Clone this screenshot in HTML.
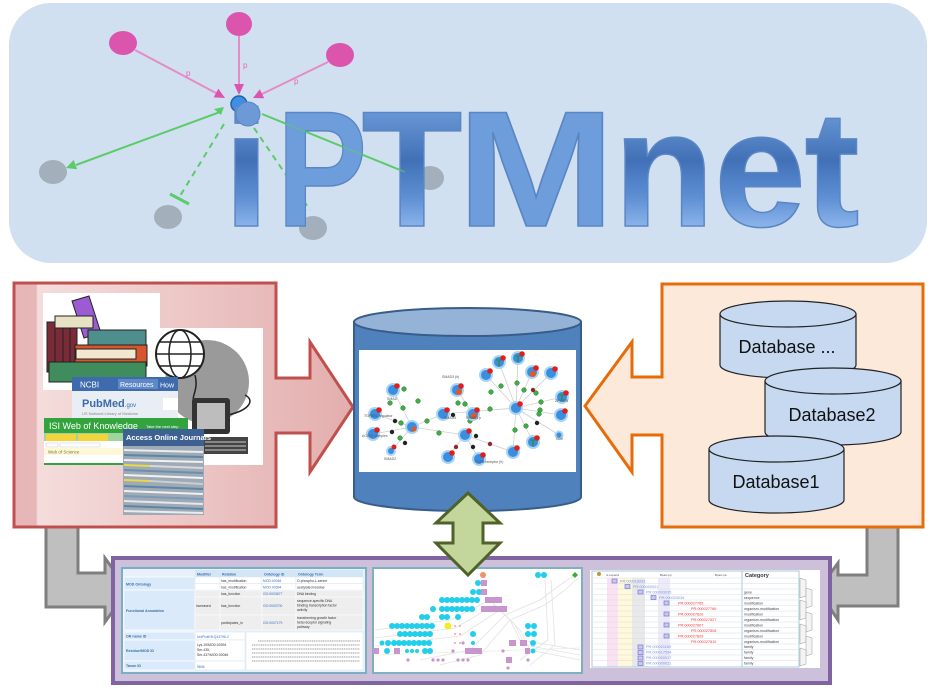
<!DOCTYPE html>
<html><head><meta charset="utf-8"><style>html,body{margin:0;padding:0;background:#fff;}svg{display:block}</style></head>
<body>
<svg width="939" height="689" viewBox="0 0 939 689" xmlns="http://www.w3.org/2000/svg" font-family="'Liberation Sans', sans-serif">
<defs>
<linearGradient id="tg" x1="0" y1="105" x2="0" y2="228" gradientUnits="userSpaceOnUse">
<stop offset="0" stop-color="#6E9DDB"/><stop offset="0.45" stop-color="#4170B6"/><stop offset="0.75" stop-color="#5E8FD3"/><stop offset="1" stop-color="#8DB5EC"/></linearGradient>
<linearGradient id="rg" x1="14" y1="0" x2="353" y2="0" gradientUnits="userSpaceOnUse">
<stop offset="0" stop-color="#E6B7B6"/><stop offset="0.065" stop-color="#E6B7B6"/><stop offset="0.07" stop-color="#F4DDDC"/><stop offset="1" stop-color="#E3AEAD"/></linearGradient>
</defs>
<rect width="939" height="689" fill="#fff"/>

<!-- Banner -->
<rect x="9" y="3" width="918" height="260" rx="42" fill="#D0E0F1"/>
<!-- network in banner -->
<g stroke="#E58BC6" stroke-width="2">
<line x1="135" y1="50" x2="216" y2="93"/>
<line x1="239" y1="36" x2="239" y2="85"/>
<line x1="328" y1="62" x2="262" y2="94"/>
</g>
<g fill="#DC55AC">
<polygon points="225,98 213.7,97.4 218.3,88.6"/>
<polygon points="239,95 234,84 244,84"/>
<polygon points="253,98 264.2,98.2 259.8,89.2"/>
<ellipse cx="123" cy="43" rx="14" ry="12"/>
<ellipse cx="239" cy="24" rx="13" ry="12"/>
<ellipse cx="340" cy="55" rx="14" ry="12"/>
</g>
<g fill="#E06AB6" font-size="8"><text x="186" y="76">p</text><text x="243" y="68">p</text><text x="294" y="84">p</text></g>
<g fill="#A3AFBA">
<ellipse cx="53" cy="172" rx="14" ry="12"/>
<ellipse cx="168" cy="217" rx="14" ry="12"/>
<ellipse cx="313" cy="228" rx="14" ry="12"/>
<ellipse cx="430" cy="178" rx="14" ry="12"/>
</g>
<g stroke="#5CCB6A" stroke-width="2" fill="none">
<line x1="220" y1="112" x2="76" y2="165"/>
<line x1="224" y1="124" x2="180" y2="196" stroke-dasharray="6,5"/>
<line x1="254" y1="128" x2="310" y2="210" stroke-dasharray="6,5"/>
<line x1="262" y1="114" x2="405" y2="172"/>
<line x1="170" y1="194" x2="189" y2="204" stroke-width="3"/>
</g>
<polygon points="66,168 77.1,169.3 73.7,159.9" fill="#5CCB6A"/>
<polygon points="214,109 224,107 221,115" fill="#5CCB6A"/>
<circle cx="239" cy="104" r="8" fill="#3A8FE6" stroke="#2A5FA0" stroke-width="1.5"/>

<!-- iPTMnet text -->
<g fill="url(#tg)" stroke="#5A86C4" stroke-width="1.5" font-weight="bold" font-size="165" text-anchor="middle">
<text x="246.5" y="226">i</text>
<text transform="translate(322,226) scale(0.82,1)" x="0" y="0">P</text>
<text x="412" y="226">T</text>
<text transform="translate(536,226) scale(1.15,1)" x="0" y="0">M</text>
<text x="664" y="226">n</text>
<text x="760" y="226">e</text>
<text x="832" y="226">t</text>
</g>
<circle cx="248" cy="114" r="12" fill="#6D9AD6" stroke="#5A86C4" stroke-width="1"/>
<g stroke="#5CCB6A" stroke-width="1.5" opacity="0.6">
<line x1="262" y1="114" x2="405" y2="172"/>
</g>

<!-- Gray elbow arrows -->
<path d="M46,527 L78,527 L78,573 L105,573 L105,558 L128,590 L105,622 L105,607 L46,607 Z" fill="#BFBFBF" stroke="#7F7F7F" stroke-width="3" stroke-linejoin="miter"/>
<path d="M867,527 L898,527 L898,606 L838,606 L838,620 L818,590 L838,563 L838,575 L867,575 Z" fill="#BFBFBF" stroke="#7F7F7F" stroke-width="3"/>

<!-- Left box -->
<path d="M14,283 L276,283 L276,378 L310,378 L310,342 L353,407 L310,472 L310,433 L276,433 L276,527 L14,527 Z" fill="url(#rg)" stroke="#C0504D" stroke-width="3"/>
<!-- books image -->
<rect x="43" y="293" width="117" height="97" fill="#fff"/>
<rect x="160" y="328" width="103" height="137" fill="#fff"/>
<g stroke="#222" stroke-width="1">
<polygon points="72,301 89,296 101,333 84,338" fill="#9A5BD3"/>
<rect x="47" y="322" width="30" height="50" fill="#7B2B38"/>
<line x1="55" y1="322" x2="55" y2="372"/><line x1="63" y1="322" x2="63" y2="372"/><line x1="70" y1="322" x2="70" y2="372"/>
<rect x="55" y="316" width="38" height="12" fill="#E8E2C4"/>
<rect x="88" y="330" width="58" height="20" fill="#4E8E8C"/>
<rect x="75" y="345" width="72" height="21" fill="#D4572F"/>
<rect x="76" y="349" width="60" height="10" fill="#F2E8D0"/>
<rect x="49" y="362" width="97" height="20" fill="#3F8D5C"/>
</g>
<!-- globe/computer -->
<circle cx="207" cy="382" r="42" fill="#9A9A9A"/>
<circle cx="180" cy="354" r="24" fill="#fff" stroke="#222" stroke-width="2"/>
<g stroke="#222" stroke-width="1.5" fill="none">
<ellipse cx="180" cy="354" rx="11" ry="24"/><line x1="156" y1="354" x2="204" y2="354"/>
<line x1="159" y1="342" x2="201" y2="342"/><line x1="159" y1="366" x2="201" y2="366"/>
<path d="M195,375 C200,395 185,400 200,405"/>
<path d="M228,415 C250,410 255,400 245,395"/>
</g>
<rect x="192" y="398" width="38" height="36" rx="3" fill="#333"/>
<rect x="197" y="403" width="28" height="26" fill="#BDBDBD"/>
<rect x="203" y="437" width="45" height="17" fill="#444"/>
<g stroke="#ccc" stroke-width="1"><line x1="205" y1="442" x2="246" y2="442"/><line x1="205" y1="446" x2="246" y2="446"/><line x1="205" y1="450" x2="246" y2="450"/></g>
<!-- NCBI -->
<rect x="72" y="377" width="106" height="41" fill="#E9EEF4"/>
<rect x="72" y="377" width="106" height="14" fill="#3E6AAE"/>
<text x="80" y="387.5" font-size="8" fill="#fff">NCBI</text>
<rect x="118" y="379" width="40" height="10" fill="#5F88C4"/>
<text x="120" y="387" font-size="7" fill="#fff">Resources</text>
<text x="160" y="387.5" font-size="7" fill="#fff">How</text>
<text x="82" y="407" font-size="11" font-weight="bold" fill="#3A6AB0">PubMed<tspan font-size="6" font-weight="normal">.gov</tspan></text>
<text x="82" y="415" font-size="4" fill="#888">US National Library of Medicine</text>
<rect x="163" y="398" width="15" height="12" fill="#fff"/>
<!-- ISI -->
<rect x="44" y="418" width="144" height="47" fill="#fff"/>
<rect x="44" y="418" width="144" height="15" fill="#33A43D"/>
<text x="49" y="429" font-size="9" fill="#fff">ISI Web of Knowledge</text>
<text x="146" y="428" font-size="4" fill="#fff">Take the next step</text>
<rect x="44" y="433" width="144" height="8" fill="#9FD49F"/>
<rect x="46" y="434" width="30" height="7" fill="#F3D43F"/><rect x="78" y="434" width="30" height="7" fill="#F3D43F"/>
<rect x="46" y="443" width="12" height="4" fill="#fff" stroke="#ccc" stroke-width="0.5"/><rect x="60" y="443" width="40" height="4" fill="#fff" stroke="#ccc" stroke-width="0.5"/>
<rect x="44" y="448" width="144" height="7" fill="#FFF8D8"/>
<text x="48" y="453.5" font-size="4.5" fill="#6B7F2A">Web of Science</text>
<rect x="44" y="463" width="144" height="2" fill="#33A43D"/>
<!-- Journals -->
<rect x="123" y="429" width="81" height="86" fill="#9FAAB5"/>
<rect x="123" y="429" width="81" height="17" fill="#3D6190"/>
<text x="126" y="440" font-size="7.5" font-weight="bold" fill="#fff">Access Online Journals</text>
<g stroke-width="2">
<line x1="124" y1="450" x2="203" y2="452" stroke="#E8ECEF"/>
<line x1="124" y1="455" x2="203" y2="457" stroke="#5B86A8"/>
<line x1="124" y1="460" x2="203" y2="462" stroke="#EEF0F2"/>
<line x1="124" y1="465" x2="150" y2="466" stroke="#E8D84A"/>
<line x1="150" y1="466" x2="203" y2="468" stroke="#D5DADF"/>
<line x1="124" y1="470" x2="203" y2="473" stroke="#6A8FB0"/>
<line x1="124" y1="475" x2="203" y2="478" stroke="#F0F2F4"/>
<line x1="124" y1="480" x2="150" y2="481" stroke="#E8D84A"/>
<line x1="150" y1="481" x2="203" y2="484" stroke="#C8CED4"/>
<line x1="124" y1="486" x2="203" y2="489" stroke="#5B86A8"/>
<line x1="124" y1="491" x2="203" y2="494" stroke="#EEF0F2"/>
<line x1="124" y1="496" x2="203" y2="499" stroke="#7A9AB8"/>
<line x1="124" y1="501" x2="203" y2="504" stroke="#E4E8EC"/>
<line x1="124" y1="506" x2="203" y2="509" stroke="#5B86A8"/>
<line x1="124" y1="511" x2="203" y2="513" stroke="#E8ECEF"/>
</g>

<!-- Right box -->
<path d="M662,284 L923,284 L923,527 L662,527 L662,435 L632,435 L632,472 L585,406 L632,342 L632,377 L662,377 Z" fill="#FDE9D9" stroke="#E46C0A" stroke-width="3"/>
<g stroke="#222" stroke-width="1.2" fill="#C6D9F1">
<path d="M720,314 L720,365 A68,13 0 0 0 856,365 L856,314 Z"/>
<ellipse cx="788" cy="314" rx="68" ry="13"/>
</g>
<text x="787" y="353" font-size="18" text-anchor="middle" fill="#111">Database ...</text>
<g stroke="#222" stroke-width="1.2" fill="#C6D9F1">
<path d="M765,381 L765,432 A68,13 0 0 0 901,432 L901,381 Z"/>
<ellipse cx="833" cy="381" rx="68" ry="13"/>
</g>
<text x="832" y="421" font-size="18" text-anchor="middle" fill="#111">Database2</text>
<g stroke="#222" stroke-width="1.2" fill="#C6D9F1">
<path d="M709,449 L709,500 A67.5,13 0 0 0 844,500 L844,449 Z"/>
<ellipse cx="776.5" cy="449" rx="67.5" ry="13"/>
</g>
<text x="776" y="488" font-size="18" text-anchor="middle" fill="#111">Database1</text>

<!-- Center cylinder -->
<path d="M354,322 L354,497 A113.5,14 0 0 0 581,497 L581,322 Z" fill="#4F81BD" stroke="#385D8A" stroke-width="2"/>
<ellipse cx="467.5" cy="322" rx="113.5" ry="14" fill="#95B3D7" stroke="#385D8A" stroke-width="2"/>
<rect x="359" y="350" width="217" height="122" fill="#fff"/>
<g stroke="#CFCFCF" stroke-width="0.8">
<line x1="393" y1="390" x2="412" y2="427"/><line x1="375" y1="414" x2="412" y2="427"/><line x1="373" y1="434" x2="412" y2="427"/>
<line x1="391" y1="451" x2="412" y2="427"/><line x1="412" y1="427" x2="443" y2="414"/><line x1="412" y1="427" x2="465" y2="435"/>
<line x1="443" y1="414" x2="516" y2="408"/><line x1="457" y1="390" x2="473" y2="414"/>
<line x1="465" y1="435" x2="448" y2="457"/><line x1="465" y1="435" x2="479" y2="459"/><line x1="465" y1="435" x2="513" y2="452"/>
<line x1="516" y1="408" x2="486" y2="375"/><line x1="516" y1="408" x2="499" y2="362"/><line x1="516" y1="408" x2="518" y2="358"/>
<line x1="516" y1="408" x2="532" y2="372"/><line x1="516" y1="408" x2="551" y2="373"/><line x1="516" y1="408" x2="562" y2="397"/>
<line x1="516" y1="408" x2="561" y2="415"/><line x1="516" y1="408" x2="533" y2="442"/><line x1="516" y1="408" x2="513" y2="452"/>
<line x1="516" y1="408" x2="559" y2="435"/>
</g>
<g fill="#3CB043" stroke="#1E6A22" stroke-width="0.5">
<circle cx="404" cy="389" r="2.3"/><circle cx="418" cy="401" r="2.3"/><circle cx="403" cy="408" r="2.3"/><circle cx="401" cy="423" r="2.3"/>
<circle cx="427" cy="421" r="2.3"/><circle cx="439" cy="433" r="2.3"/><circle cx="400" cy="438" r="2.3"/><circle cx="458" cy="403" r="2.3"/>
<circle cx="490" cy="409" r="2.3"/><circle cx="491" cy="392" r="2.3"/><circle cx="501" cy="386" r="2.3"/><circle cx="517" cy="383" r="2.3"/>
<circle cx="524" cy="390" r="2.3"/><circle cx="536" cy="393" r="2.3"/><circle cx="541" cy="402" r="2.3"/><circle cx="540" cy="410" r="2.3"/>
<circle cx="539" cy="414" r="2.3"/><circle cx="526" cy="426" r="2.3"/><circle cx="515" cy="430" r="2.3"/><circle cx="470" cy="421" r="2.3"/>
<circle cx="465" cy="404" r="2.3"/><circle cx="390" cy="403" r="2.3"/>
</g>
<g fill="#222"><circle cx="395" cy="421" r="2.2"/><circle cx="392" cy="432" r="2.2"/><circle cx="405" cy="443" r="2.2"/><circle cx="453" cy="415" r="2.2"/>
<circle cx="476" cy="436" r="2.2"/><circle cx="473" cy="447" r="2.2"/><circle cx="537" cy="423" r="2.2"/></g>
<g fill="#8E2A2A"><circle cx="456" cy="447" r="2.2"/><circle cx="490" cy="444" r="2.2"/><circle cx="533" cy="390" r="2.2"/></g>
<g fill="#3A8EE0" stroke="#A8D4F5" stroke-width="2">
<circle cx="393" cy="390" r="6"/><circle cx="375" cy="414" r="6"/><circle cx="373" cy="434" r="6"/><circle cx="412" cy="427" r="6"/>
<circle cx="443" cy="414" r="6"/><circle cx="457" cy="390" r="6"/><circle cx="473" cy="414" r="6"/><circle cx="465" cy="435" r="6"/>
<circle cx="448" cy="457" r="6"/><circle cx="479" cy="459" r="6"/><circle cx="486" cy="375" r="6"/><circle cx="499" cy="362" r="6"/>
<circle cx="518" cy="358" r="6"/><circle cx="532" cy="372" r="6"/><circle cx="551" cy="373" r="6"/><circle cx="516" cy="408" r="6"/>
<circle cx="562" cy="397" r="6"/><circle cx="561" cy="415" r="6"/><circle cx="533" cy="442" r="6"/><circle cx="513" cy="452" r="6"/>
<circle cx="391" cy="451" r="4"/><circle cx="559" cy="435" r="3.5"/>
</g>
<g fill="#E8561E"><circle cx="459" cy="392" r="3"/><circle cx="474" cy="416" r="3"/><circle cx="533" cy="374" r="3"/><circle cx="414" cy="429" r="2.5"/></g>
<g fill="#E01E1E">
<circle cx="397" cy="386" r="2.8"/><circle cx="379" cy="410" r="2.8"/><circle cx="377" cy="430" r="2.8"/><circle cx="447" cy="410" r="2.8"/>
<circle cx="461" cy="386" r="2.8"/><circle cx="477" cy="410" r="2.8"/><circle cx="469" cy="431" r="2.8"/><circle cx="452" cy="453" r="2.8"/>
<circle cx="483" cy="455" r="2.8"/><circle cx="490" cy="371" r="2.8"/><circle cx="503" cy="358" r="2.8"/><circle cx="522" cy="354" r="2.8"/>
<circle cx="536" cy="368" r="2.8"/><circle cx="555" cy="369" r="2.8"/><circle cx="520" cy="404" r="2.8"/><circle cx="566" cy="393" r="2.8"/>
<circle cx="565" cy="411" r="2.8"/><circle cx="537" cy="438" r="2.8"/><circle cx="517" cy="448" r="2.8"/><circle cx="394" cy="447" r="2.5"/>
</g>
<g fill="#2E9030" font-size="9" font-weight="bold" text-anchor="middle"><text x="499" y="366">T</text><text x="518" y="362">T</text><text x="562" y="401">T</text><text x="533" y="446">T</text></g>
<g fill="#555" font-size="3.5">
<text x="387" y="400">SMAD</text><text x="364" y="417">TGFBR1 regulator</text><text x="362" y="437">ACVR1 complex</text><text x="384" y="460">SMAD2</text>
<text x="442" y="378">SMAD3 (h)</text><text x="444" y="419">SMAD4</text><text x="466" y="419">SMAD3 p</text><text x="475" y="463">TGFB receptor (h)</text><text x="555" y="402">ZFYVE9</text><text x="556" y="440">CDK</text>
</g>

<!-- Bottom panel -->
<rect x="113" y="558" width="717" height="125" fill="#CCC0DA" stroke="#8064A2" stroke-width="4"/>

<!-- Screenshot 1: table -->
<rect x="122" y="568" width="244" height="105" fill="#E8F1FA" stroke="#78AFC2" stroke-width="2"/>
<g fill="#D3E6F8"><rect x="195" y="570" width="25" height="7"/><rect x="220" y="570" width="42" height="7"/><rect x="262" y="570" width="34" height="7"/><rect x="296" y="570" width="67" height="7"/></g>
<g fill="#DAEAFA" stroke="#fff" stroke-width="0.7">
<rect x="124" y="577" width="71" height="13"/><rect x="124" y="590" width="71" height="40"/>
<rect x="124" y="632" width="71" height="8"/><rect x="124" y="640" width="71" height="21"/><rect x="124" y="661" width="71" height="9"/>
</g>
<g fill="#fff" stroke="#D8E4EE" stroke-width="0.5">
<rect x="195" y="577" width="25" height="6.5"/><rect x="220" y="577" width="42" height="6.5"/><rect x="262" y="577" width="34" height="6.5"/><rect x="296" y="577" width="67" height="6.5"/>
<rect x="195" y="583.5" width="25" height="6.5"/><rect x="220" y="583.5" width="42" height="6.5"/><rect x="262" y="583.5" width="34" height="6.5"/><rect x="296" y="583.5" width="67" height="6.5"/>
</g>
<g fill="#EEEEEE" stroke="#fff" stroke-width="0.5">
<rect x="195" y="590" width="25" height="7"/><rect x="220" y="590" width="42" height="7"/><rect x="262" y="590" width="34" height="7"/><rect x="296" y="590" width="67" height="7"/>
<rect x="195" y="597" width="25" height="18"/><rect x="220" y="597" width="42" height="18"/><rect x="262" y="597" width="34" height="18"/><rect x="296" y="597" width="67" height="18"/>
<rect x="195" y="615" width="25" height="15"/><rect x="220" y="615" width="42" height="15"/><rect x="262" y="615" width="34" height="15"/><rect x="296" y="615" width="67" height="15"/>
</g>
<g fill="#fff" stroke="#D8E4EE" stroke-width="0.5">
<rect x="195" y="632" width="50" height="8"/><rect x="195" y="640" width="50" height="21"/><rect x="195" y="661" width="50" height="9"/>
<rect x="246" y="632" width="117" height="38"/>
</g>
<g font-size="3.6" font-weight="bold" fill="#3C6EA8">
<text x="197" y="575.5">Modifier</text><text x="222" y="575.5">Relation</text><text x="264" y="575.5">Ontology ID</text><text x="298" y="575.5">Ontology Term</text>
<text x="126" y="585.5">MOD Ontology</text><text x="126" y="612">Functional Annotation</text>
<text x="126" y="637.5">OR name ID</text><text x="126" y="652">Residue/MOD ID</text><text x="126" y="667">Taxon ID</text>
</g>
<g font-size="3.4" fill="#333">
<text x="221" y="582">has_modification</text><text x="221" y="588.5">has_modification</text><text x="221" y="595">has_function</text>
<text x="196" y="607">increased</text><text x="221" y="607">has_function</text><text x="221" y="624">participates_in</text>
<text x="297" y="582">O-phospho-L-serine</text><text x="297" y="588.5">acetylated residue</text><text x="297" y="595">DNA binding</text>
<text x="297" y="602">sequence-specific DNA</text><text x="297" y="606.5">binding transcription factor</text><text x="297" y="611">activity</text>
<text x="297" y="619">transforming growth factor</text><text x="297" y="623.5">beta receptor signaling</text><text x="297" y="628">pathway</text>
<text x="197" y="646">Lys-19/MOD:00394</text><text x="197" y="651">Ser-435,</text><text x="197" y="656">Ser-437/MOD:00046</text>
</g>
<g font-size="3.4" fill="#3A6EC0">
<text x="263" y="582">MOD:00046</text><text x="263" y="588.5">MOD:00394</text><text x="263" y="595">GO:0003677</text><text x="263" y="607">GO:0003700</text><text x="263" y="624">GO:0007179</text>
<text x="197" y="638">UniProtKB:Q13796-2</text><text x="197" y="668">9606</text>
</g>
<g stroke="#9A9A9A" stroke-width="1.1" stroke-dasharray="1.2,0.6">
<line x1="258" y1="641" x2="360" y2="641"/><line x1="252" y1="645" x2="360" y2="645"/><line x1="252" y1="649" x2="360" y2="649"/>
<line x1="252" y1="653" x2="360" y2="653"/><line x1="252" y1="657" x2="360" y2="657"/><line x1="252" y1="661" x2="360" y2="661"/>
</g>

<!-- Screenshot 2: graph -->
<rect x="373" y="568" width="209" height="105" fill="#fff" stroke="#7FB0C0" stroke-width="2"/>
<g stroke="#E2E2E2" stroke-width="0.8" fill="none">
<path d="M375,630 L450,620 L490,600 L510,620 L520,640 L580,650"/>
<path d="M375,638 L455,628 L495,605 L515,625 L525,645 L580,655"/>
<path d="M375,646 L460,636 L500,610 L520,630 L530,650 L580,660"/>
<path d="M420,660 L470,650 L505,615 L540,600 L560,585 L575,575"/>
<path d="M440,665 L480,655 L510,620 L545,605 L565,590 L578,578"/>
<path d="M545,580 L548,640 L520,660"/>
<path d="M551,580 L555,645 L530,665"/>
<path d="M375,655 L580,648" stroke="#E6F0E2"/>
</g>
<circle cx="483" cy="575" r="3" fill="#F0906A"/>
<g fill="#22CFEA">
<circle cx="538" cy="575" r="3"/><circle cx="544" cy="575" r="3"/>
<circle cx="478" cy="583" r="3"/>
<circle cx="473" cy="592" r="3"/><circle cx="479" cy="592" r="3"/>
<circle cx="442" cy="600" r="3"/><circle cx="447" cy="600" r="3"/><circle cx="452" cy="600" r="3"/><circle cx="457" cy="600" r="3"/><circle cx="462" cy="600" r="3"/><circle cx="467" cy="600" r="3"/><circle cx="472" cy="600" r="3"/><circle cx="477" cy="600" r="3"/>
<circle cx="433" cy="609" r="3"/><circle cx="442" cy="609" r="3"/><circle cx="447" cy="609" r="3"/><circle cx="452" cy="609" r="3"/><circle cx="457" cy="609" r="3"/><circle cx="462" cy="609" r="3"/><circle cx="467" cy="609" r="3"/><circle cx="472" cy="609" r="3"/>
<circle cx="422" cy="617" r="3"/><circle cx="427" cy="617" r="3"/><circle cx="442" cy="617" r="3"/><circle cx="447" cy="617" r="3"/><circle cx="458" cy="617" r="3"/>
<circle cx="392" cy="626" r="3"/><circle cx="397" cy="626" r="3"/><circle cx="402" cy="626" r="3"/><circle cx="407" cy="626" r="3"/><circle cx="412" cy="626" r="3"/><circle cx="417" cy="626" r="3"/><circle cx="422" cy="626" r="3"/><circle cx="427" cy="626" r="3"/><circle cx="432" cy="626" r="3"/>
<circle cx="528" cy="626" r="3"/><circle cx="534" cy="626" r="3"/>
<circle cx="400" cy="634" r="3"/><circle cx="405" cy="634" r="3"/><circle cx="410" cy="634" r="3"/><circle cx="415" cy="634" r="3"/><circle cx="420" cy="634" r="3"/><circle cx="425" cy="634" r="3"/><circle cx="430" cy="634" r="3"/>
<circle cx="473" cy="634" r="3"/><circle cx="528" cy="634" r="3"/><circle cx="534" cy="634" r="3"/>
<circle cx="382" cy="643" r="2.5"/><circle cx="388" cy="643" r="3"/><circle cx="394" cy="643" r="3"/><circle cx="399" cy="643" r="3"/><circle cx="404" cy="643" r="3"/><circle cx="409" cy="643" r="3"/><circle cx="414" cy="643" r="3"/><circle cx="419" cy="643" r="3"/><circle cx="424" cy="643" r="3"/><circle cx="429" cy="643" r="3"/>
<circle cx="473" cy="643" r="2"/><circle cx="533" cy="643" r="3"/>
<circle cx="387" cy="651" r="3"/><circle cx="407" cy="651" r="2"/><circle cx="412" cy="651" r="2"/><circle cx="417" cy="651" r="2"/><circle cx="425" cy="651" r="3"/><circle cx="430" cy="651" r="3"/>
<circle cx="533" cy="651" r="2.5"/>
</g>
<circle cx="448" cy="626" r="3.5" fill="#F2EC2A"/>
<polygon points="575,572 578,575 575,578 572,575" fill="#3FAA3F"/>
<g fill="#C896CC">
<rect x="481" y="580" width="6" height="6"/><rect x="481" y="589" width="6" height="6"/>
<rect x="485" y="597" width="17" height="6"/><rect x="481" y="606" width="26" height="6"/>
<rect x="509" y="640" width="7" height="6"/><rect x="520" y="640" width="7" height="6"/>
<rect x="373" y="648" width="6" height="6"/><rect x="394" y="648" width="6" height="6"/><rect x="465" y="648" width="17" height="6"/>
<rect x="525" y="648" width="5" height="6"/><rect x="506" y="657" width="6" height="6"/>
<circle cx="408" cy="660" r="1.6"/><circle cx="433" cy="660" r="1.6"/><circle cx="438" cy="660" r="1.6"/><circle cx="443" cy="660" r="1.6"/>
<circle cx="458" cy="660" r="1.6"/><circle cx="463" cy="660" r="1.6"/><circle cx="468" cy="660" r="1.6"/><circle cx="528" cy="660" r="1.6"/>
<circle cx="508" cy="668" r="1.6"/><circle cx="503" cy="651" r="1.6"/><circle cx="453" cy="651" r="1.6"/><circle cx="463" cy="643" r="1.6"/>
</g>
<g fill="#F0A0B0"><circle cx="455" cy="626" r="1"/><circle cx="460" cy="626" r="1"/><circle cx="455" cy="634" r="1"/><circle cx="460" cy="634" r="1"/><circle cx="455" cy="643" r="1"/><circle cx="460" cy="643" r="1"/></g>

<!-- Screenshot 3: tree -->
<rect x="590" y="570" width="230" height="98" fill="#fff"/>
<rect x="607" y="578" width="11" height="89" fill="#FBE2F2"/>
<rect x="618" y="578" width="14" height="89" fill="#FFF8DA"/>
<rect x="632" y="578" width="13" height="89" fill="#E9E9E9"/>
<rect x="658" y="578" width="12" height="89" fill="#EDEBFA"/>
<rect x="592" y="571" width="150" height="96" fill="none" stroke="#A9C7D8" stroke-width="1"/>
<rect x="742" y="571" width="57" height="96" fill="none" stroke="#A9C7D8" stroke-width="1"/>
<g stroke="#D6DDE4" stroke-width="0.5">
<line x1="593" y1="578" x2="799" y2="578"/><line x1="593" y1="583.5" x2="799" y2="583.5"/><line x1="593" y1="589" x2="799" y2="589"/>
<line x1="593" y1="594.5" x2="799" y2="594.5"/><line x1="593" y1="600" x2="799" y2="600"/><line x1="593" y1="605.5" x2="799" y2="605.5"/>
<line x1="593" y1="611" x2="799" y2="611"/><line x1="593" y1="616.5" x2="799" y2="616.5"/><line x1="593" y1="622" x2="799" y2="622"/>
<line x1="593" y1="627.5" x2="799" y2="627.5"/><line x1="593" y1="633" x2="799" y2="633"/><line x1="593" y1="638.5" x2="799" y2="638.5"/>
<line x1="593" y1="644" x2="799" y2="644"/><line x1="593" y1="649.5" x2="799" y2="649.5"/><line x1="593" y1="655" x2="799" y2="655"/>
<line x1="593" y1="660.5" x2="799" y2="660.5"/>
</g>
<text x="745" y="577" font-size="5.5" font-weight="bold" fill="#333">Category</text>
<g font-size="3" fill="#555"><text x="606" y="576">Is expand</text><text x="660" y="576">Bpart-pp</text><text x="715" y="576">Bpart-pa</text></g>
<circle cx="599" cy="574" r="2" fill="#B89A30"/>
<g fill="#C8C8F4" stroke="#6A6AC8" stroke-width="0.6">
<rect x="612" y="579" width="5" height="4"/><rect x="625" y="584.5" width="5" height="4"/><rect x="638" y="590" width="5" height="4"/>
<rect x="651" y="595.5" width="5" height="4"/><rect x="664" y="601" width="5" height="4"/><rect x="664" y="612" width="5" height="4"/>
<rect x="664" y="623" width="5" height="4"/><rect x="664" y="634" width="5" height="4"/>
<rect x="638" y="645" width="5" height="4"/><rect x="638" y="650.5" width="5" height="4"/><rect x="638" y="656" width="5" height="4"/><rect x="638" y="661.5" width="5" height="4"/>
</g>
<g font-size="3.8" fill="#7F95E0">
<text x="620" y="582.5">PR:000018263</text><text x="633" y="588">PR:000000001</text><text x="646" y="593.5">PR:000003035</text>
<text x="659" y="599">PR:000003036</text>
<text x="646" y="648">PR:000021169</text><text x="646" y="653.5">PR:000017594</text><text x="646" y="659">PR:000000017</text><text x="646" y="664.5">PR:000000021</text>
</g>
<g font-size="3.8" fill="#F03838">
<text x="678" y="604.5">PR:000027765</text><text x="691" y="610">PR:000027766</text><text x="678" y="615.5">PR:000027626</text>
<text x="691" y="621">PR:000027627</text><text x="678" y="626.5">PR:000027807</text><text x="691" y="632">PR:000027808</text>
<text x="678" y="637.5">PR:000027809</text><text x="691" y="643">PR:000027810</text>
</g>
<g font-size="3.6" fill="#444">
<text x="744" y="593.5">gene</text><text x="744" y="599">sequence</text><text x="744" y="604.5">modification</text>
<text x="744" y="610">organism-modification</text><text x="744" y="615.5">modification</text><text x="744" y="621">organism-modification</text>
<text x="744" y="626.5">modification</text><text x="744" y="632">organism-modification</text><text x="744" y="637.5">modification</text>
<text x="744" y="643">organism-modification</text><text x="744" y="648">family</text><text x="744" y="653.5">family</text>
<text x="744" y="659">family</text><text x="744" y="664.5">family</text>
</g>
<g fill="#F4F4F4" stroke="#999" stroke-width="0.5">
<path d="M800,578 L806,580 L806,596 L800,598 Z"/><path d="M806,588 L812,590 L812,606 L806,608 Z"/>
<path d="M800,600 L806,602 L806,618 L800,620 Z"/><path d="M806,612 L812,614 L812,630 L806,632 Z"/>
<path d="M800,624 L806,626 L806,642 L800,644 Z"/><path d="M806,636 L812,638 L812,654 L806,656 Z"/>
<path d="M800,648 L806,650 L806,664 L800,666 Z"/>
</g>

<!-- Green double arrow -->
<polygon points="468,493 500,523 483,523 483,543 500,543 468,575 436,543 453,543 453,523 436,523" fill="#C3D69B" stroke="#4F6228" stroke-width="3" stroke-linejoin="miter"/>
</svg>
</body></html>
